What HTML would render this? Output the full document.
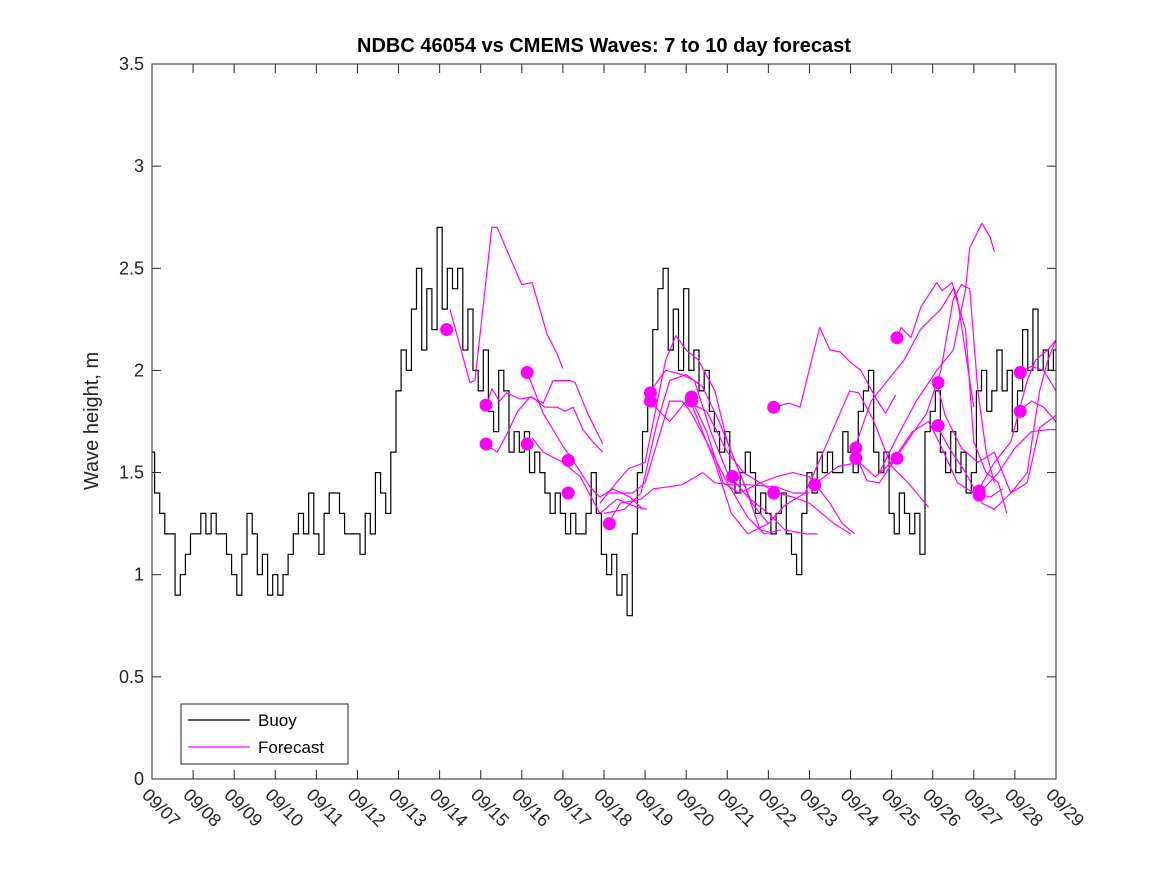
<!DOCTYPE html>
<html><head><meta charset="utf-8"><style>
body{margin:0;background:#fff;}
svg{display:block;font-family:"Liberation Sans",sans-serif;}
</style></head><body>
<svg id="chart" width="1167" height="875"></svg>
<script>
const xTickLabels=["09/07","09/08","09/09","09/10","09/11","09/12","09/13","09/14","09/15","09/16","09/17","09/18","09/19","09/20","09/21","09/22","09/23","09/24","09/25","09/26","09/27","09/28","09/29"];
const yTickValues=[0,0.5,1,1.5,2,2.5,3,3.5];
const yTickLabels=["0","0.5","1","1.5","2","2.5","3","3.5"];
const buoyStep=0.125;
const buoyValues=[
1.6,1.4,1.3,1.2,1.2,0.9,1.0,1.1,
1.2,1.2,1.3,1.2,1.3,1.2,1.2,1.1,
1.0,0.9,1.1,1.3,1.2,1.0,1.1,0.9,
1.0,0.9,1.0,1.1,1.2,1.3,1.2,1.4,
1.2,1.1,1.3,1.4,1.4,1.3,1.2,1.2,
1.2,1.1,1.3,1.2,1.5,1.4,1.3,1.6,
1.9,2.1,2.0,2.3,2.5,2.1,2.4,2.2,
2.7,2.3,2.5,2.4,2.5,2.1,2.3,2.0,
1.9,2.1,1.8,1.7,2.0,1.9,1.6,1.7,
1.6,1.7,1.5,1.6,1.5,1.4,1.3,1.4,
1.3,1.2,1.3,1.2,1.2,1.3,1.5,1.3,
1.1,1.0,1.1,0.9,1.0,0.8,1.2,1.5,
1.7,1.9,2.2,2.4,2.5,2.1,2.3,2.0,
2.4,2.0,2.1,1.9,2.0,1.8,1.7,1.6,
1.7,1.5,1.4,1.5,1.6,1.5,1.3,1.4,
1.3,1.2,1.3,1.4,1.2,1.1,1.0,1.3,
1.5,1.4,1.6,1.5,1.6,1.5,1.5,1.7,
1.6,1.5,1.8,1.9,2.0,1.6,1.5,1.6,
1.3,1.2,1.4,1.3,1.2,1.3,1.1,1.7,
1.8,1.9,1.6,1.5,1.7,1.5,1.6,1.4,
1.5,1.9,2.0,1.8,1.9,2.1,1.9,2.0,
1.7,1.9,2.2,2.0,2.3,2.0,2.1,2.0,2.1];
const forecastDays=[
[7.25,7.74,7.86,8.27,8.40,8.76,9.0,9.25,9.61,9.86,10.0],
[8.15,8.27,8.46,8.63,8.95,9.25,9.56,9.86,10.05,10.25,10.49,10.73,10.97],
[8.1,8.4,8.64,8.9,9.2,9.52,9.76,10.17,10.3,10.6,10.97],
[9.13,9.52,10.0,10.34,10.66,10.9,11.22,11.63,11.95],
[9.25,9.52,10.0,10.42,10.9,11.32,11.8,12.05],
[11.1,11.4,11.9,12.2,12.9,13.4,13.7,14.1,14.5,15.2,15.6,16.0],
[10.9,11.3,11.6,12.0,12.3,12.5,12.75,13.0,13.3,13.7,14.0,14.4,14.8,15.0],
[11.0,11.5,11.9,12.3,12.6,13.0,13.4,13.8,14.2,14.6,15.0],
[11.1,11.7,12.0,12.3,12.6,12.9,13.1,13.5,14.0,14.5,14.9,15.3],
[12.1,12.5,12.9,13.2,13.6,14.0,14.5,15.0,15.4,15.9,16.2],
[12.1,12.6,13.0,13.5,14.0,14.4,14.8,15.2,15.6,16.0,16.6,17.0],
[13.1,13.5,13.9,14.3,14.8,15.2,15.6,16.0,16.5,16.8,17.1],
[13.1,13.7,14.1,14.5,15.0,15.4,15.9,16.98,17.2,17.55,18.0,18.4,18.9],
[15.13,15.5,15.77,16.25,16.5,16.75,17.0,17.25,17.6,17.85,18.1],
[16.1,16.7,17.2,17.4,17.7,18.4,18.85,19.2,19.5,19.7,19.9,20.1,20.3,20.5],
[17.1,17.5,17.9,18.3,18.7,19.2,19.5,19.8,20.0,20.3,20.6,20.8],
[17.1,17.6,18.0,18.5,18.9,19.2,19.6,20.0,20.4,20.7],
[18.13,18.23,18.47,18.71,19.1,19.23,19.47,19.6,20.0],
[17.7,18.2,18.6,19.1,19.5,19.8,19.9,20.2,20.4,20.5],
[19.1,19.3,19.7,20.1,20.5,20.9,21.3,21.6,22.0],
[19.1,19.4,19.8,20.2,20.5,20.9,21.3,21.6,21.8,22.0],
[20.1,20.5,20.9,21.3,21.5,21.8,22.0],
[20.1,20.6,21.0,21.4,21.8,22.0],
[21.1,21.4,21.7,22.0],
[21.1,21.4,21.7,22.0]];
const forecastValues=[
[2.30,1.94,1.95,2.70,2.70,2.53,2.42,2.43,2.18,2.08,2.01],
[1.83,1.91,1.85,1.89,1.86,1.87,1.82,1.82,1.80,1.82,1.71,1.65,1.60],
[1.64,1.60,1.69,1.80,1.87,1.84,1.95,1.95,1.94,1.79,1.64],
[1.99,1.79,1.63,1.53,1.43,1.38,1.42,1.38,1.32],
[1.67,1.60,1.55,1.48,1.30,1.37,1.33,1.32],
[1.25,1.35,1.37,1.42,1.44,1.50,1.45,1.44,1.44,1.43,1.40,1.40],
[1.35,1.45,1.52,1.55,1.85,2.05,2.17,2.10,2.05,1.90,1.65,1.45,1.22,1.21],
[1.30,1.32,1.40,1.75,1.95,1.98,1.92,1.75,1.55,1.35,1.25],
[1.40,1.40,1.45,1.65,1.85,1.85,1.80,1.65,1.45,1.28,1.20,1.22],
[1.89,2.00,1.98,1.95,1.70,1.50,1.38,1.30,1.22,1.20,1.20],
[1.85,1.75,1.85,1.80,1.60,1.50,1.45,1.40,1.38,1.35,1.25,1.20],
[1.87,1.70,1.45,1.40,1.45,1.48,1.50,1.48,1.35,1.25,1.20],
[1.85,1.55,1.30,1.20,1.25,1.34,1.40,1.90,1.89,1.76,1.53,1.45,1.33],
[1.82,1.84,1.82,2.21,2.10,2.09,2.04,2.00,1.87,1.79,1.88],
[1.44,1.53,1.55,1.46,1.45,1.66,1.79,2.0,2.35,2.42,2.40,1.90,1.60,1.45],
[1.62,1.85,1.95,2.05,2.20,2.30,2.40,2.20,1.65,1.50,1.45,1.30],
[1.57,1.48,1.55,1.70,1.75,1.63,1.45,1.40,1.38,1.42],
[2.16,2.21,2.16,2.31,2.43,2.39,2.43,2.35,1.82],
[1.50,1.70,1.85,2.00,2.10,2.40,2.60,2.72,2.65,2.58],
[1.94,1.78,1.62,1.55,1.60,1.40,1.45,1.72,1.78],
[1.73,1.62,1.50,1.35,1.32,1.40,1.50,1.90,2.05,2.15],
[1.41,1.55,1.65,1.95,2.05,2.10,2.15],
[1.39,1.50,1.62,1.70,1.71,1.71],
[1.99,2.02,2.00,1.90],
[1.80,1.85,1.82,1.75]];
const dotDays=[7.17,8.13,8.13,9.13,9.13,10.13,10.13,11.13,12.13,12.13,13.13,13.13,14.13,15.13,15.13,16.13,17.13,17.13,18.13,18.13,19.13,19.13,20.13,20.13,21.13,21.13];
const dotValues=[2.20,1.83,1.64,1.99,1.64,1.56,1.40,1.25,1.89,1.85,1.87,1.85,1.48,1.82,1.40,1.44,1.62,1.57,2.16,1.57,1.94,1.73,1.41,1.39,1.99,1.80];

const L=152,R=1056,T=64,B=779,NS='http://www.w3.org/2000/svg';
const svg=document.getElementById('chart');
function xS(d){return L+d*(R-L)/22;}
function yS(v){return B-v*(B-T)/3.5;}
function mk(tag,attrs,parent){const e=document.createElementNS(NS,tag);for(const k in attrs)e.setAttribute(k,attrs[k]);(parent||svg).appendChild(e);return e;}

const defs=mk('defs',{});
const cp=mk('clipPath',{id:'pc'},defs);
mk('rect',{x:L,y:T,width:R-L,height:B-T},cp);

const bg=mk('rect',{x:L,y:T,width:R-L,height:B-T,fill:'#fff'});



// buoy (stair-step like hourly data)
let p='';
buoyValues.forEach((v,i)=>{
  const x=xS(i*buoyStep).toFixed(1),y=yS(v).toFixed(1);
  if(i===0){p+='M'+x+','+y;}
  else{const xm=xS((i-0.5)*buoyStep).toFixed(1);p+='H'+xm+'V'+y+'H'+x;}
});
const bl=mk('path',{d:p,fill:'none',stroke:'#000','stroke-width':1.2,'clip-path':'url(#pc)'});



// forecasts
forecastDays.forEach((ds,j)=>{
  let q='';ds.forEach((d,i)=>{q+=(i?'L':'M')+xS(d).toFixed(1)+','+yS(forecastValues[j][i]).toFixed(1);});
  const fl=mk('path',{d:q,fill:'none',stroke:'#ff00ff','stroke-width':1.2,'stroke-linejoin':'round','clip-path':'url(#pc)'});
  
  
});
dotDays.forEach((d,i)=>{
  const c=mk('circle',{cx:xS(d),cy:yS(dotValues[i]),r:6.5,fill:'#ff00ff'});
  
  
});

// frame
const fr=mk('rect',{x:L,y:T,width:R-L,height:B-T,fill:'none',stroke:'#262626','stroke-width':1});



// y ticks
yTickValues.forEach((v,i)=>{
  const y=yS(v);
  mk('line',{x1:L,x2:L+9,y1:y,y2:y,stroke:'#262626'});
  mk('line',{x1:R,x2:R-9,y1:y,y2:y,stroke:'#262626'});
  const t=mk('text',{x:L-8,y:y+6,'text-anchor':'end','font-size':18,fill:'#262626'});
  t.textContent=yTickLabels[i];
  
  
});
// x ticks
xTickLabels.forEach((lab,i)=>{
  const x=xS(i);
  mk('line',{x1:x,x2:x,y1:B,y2:B-9,stroke:'#262626'});
  mk('line',{x1:x,x2:x,y1:T,y2:T+9,stroke:'#262626'});
  const t=mk('text',{x:0,y:0,'font-size':18,fill:'#262626',transform:`translate(${x-11},${B+17}) rotate(45)`});
  t.textContent=lab;
  
  
});

const title=mk('text',{x:604,y:52,'text-anchor':'middle','font-size':20,'font-weight':'bold',fill:'#000'});
title.textContent='NDBC 46054 vs CMEMS Waves: 7 to 10 day forecast';



const yl=mk('text',{x:0,y:0,'text-anchor':'middle','font-size':20,fill:'#262626',transform:'translate(98,421) rotate(-90)'});
yl.textContent='Wave height, m';



// legend
const lg=mk('g',{});


mk('rect',{x:181,y:704,width:167,height:60,fill:'#fff',stroke:'#262626'},lg);
mk('line',{x1:188,x2:250,y1:720,y2:720,stroke:'#000','stroke-width':1.2},lg);
const t1=mk('text',{x:258,y:726,'font-size':17,fill:'#000'},lg);t1.textContent='Buoy';


mk('line',{x1:188,x2:250,y1:747,y2:747,stroke:'#ff00ff','stroke-width':1.2},lg);
const t2=mk('text',{x:258,y:753,'font-size':17,fill:'#000'},lg);t2.textContent='Forecast';


</script>
</body></html>
